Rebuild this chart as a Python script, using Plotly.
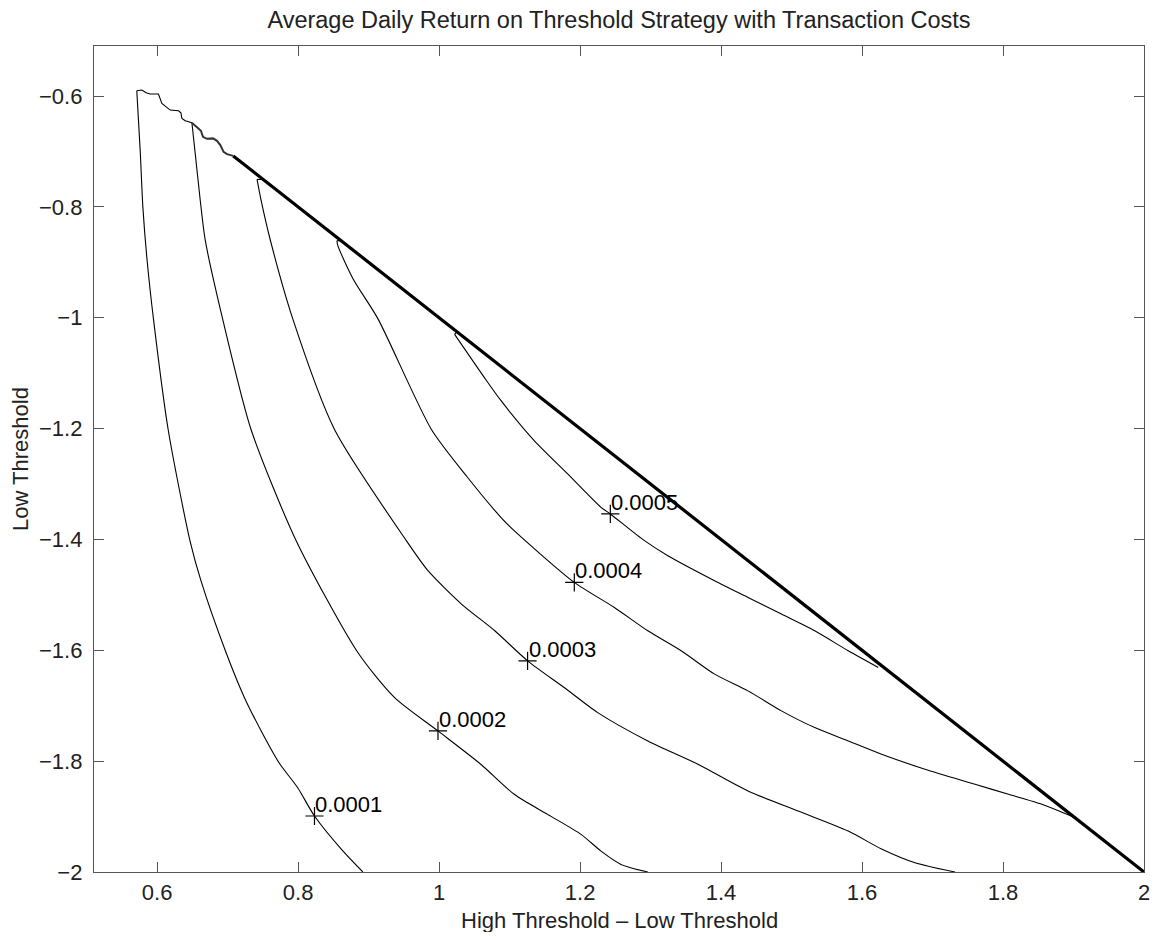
import plotly.graph_objects as go

# ---- data ----
# contour level 0.0001
x_c1 = [0.5711, 0.5760, 0.5797, 0.5860, 0.5947, 0.6156, 0.6465, 0.6620, 0.6977, 0.7237,
        0.7474, 0.7734, 0.7994, 0.8232, 0.8634, 0.8918]
y_c1 = [-0.5904, -0.70, -0.80, -0.90, -1.0016, -1.2016, -1.4020, -1.4740, -1.6040, -1.6850,
        -1.7450, -1.8038, -1.8480, -1.8990, -1.9620, -2.0]
# contour level 0.0002
x_c2 = [0.6493, 0.6611, 0.6682, 0.6928, 0.7332, 0.7972, 0.8847, 0.9369, 0.9984, 1.0591,
        1.1065, 1.1539, 1.2013, 1.2297, 1.2581, 1.2961]
y_c2 = [-0.6482, -0.7879, -0.8600, -1.0016, -1.2016, -1.4022, -1.6040, -1.6853, -1.7455, -1.8056,
        -1.8598, -1.8960, -1.9321, -1.9623, -1.9863, -2.0]
# contour level 0.0003
x_c3 = [0.7417, 0.7474, 0.7606, 0.7923, 0.8516, 0.9535, 0.9842, 1.0317, 1.0790,
        1.1255, 1.1775, 1.2250, 1.2961, 1.3672, 1.4382, 1.5093, 1.5804, 1.6277, 1.6751, 1.7319]
y_c3 = [-0.7505, -0.7879, -0.8602, -1.0016, -1.2016, -1.4022, -1.4564, -1.5166, -1.5648,
        -1.6190, -1.6672, -1.7124, -1.7635, -1.8056, -1.8538, -1.8900, -1.9261, -1.9586, -1.9834, -2.0]
x_hook3 = [0.7503, 0.7417]
y_hook3 = [-0.7505, -0.7505]
# contour level 0.0004
x_c4 = [0.8550, 0.8563, 0.8780, 0.9131, 0.9891, 1.0402, 1.0876, 1.1065, 1.1918, 1.2486,
        1.2961, 1.3434, 1.3908, 1.4382, 1.4856, 1.5329, 1.5804, 1.6277, 1.6893, 1.7603,
        1.8078, 1.8552, 1.8907, 1.9025]
y_c4 = [-0.8610, -0.8700, -0.9300, -1.0016, -1.2016, -1.2878, -1.3600, -1.3841, -1.4775, -1.5227,
        -1.5648, -1.6009, -1.6430, -1.6732, -1.7093, -1.7395, -1.7635, -1.7876, -1.8146, -1.8417,
        -1.8598, -1.8778, -1.8959, -1.9021]
x_hook4 = [0.8610, 0.8550]
y_hook4 = [-0.8610, -0.8610]
# contour level 0.0005
x_c5 = [1.0220, 1.0638, 1.0876, 1.1349, 1.1824, 1.2297, 1.2429, 1.2913, 1.3245,
        1.3908, 1.4382, 1.4856, 1.5329, 1.5804, 1.6230]
y_c5 = [-1.0300, -1.1071, -1.1492, -1.2215, -1.2817, -1.3420, -1.3540, -1.4022, -1.4293,
        -1.4744, -1.5046, -1.5346, -1.5648, -1.6009, -1.6310]
x_hook5 = [1.0250, 1.0220]
y_hook5 = [-1.0250, -1.0300]

# ragged upper boundary of the feasible region
x_edge = [0.5711, 0.5783, 0.5844, 0.5900, 0.6018, 0.6043, 0.6067, 0.6185, 0.6303, 0.6337,
          0.6351, 0.6398, 0.6493]
y_edge = [-0.5904, -0.5892, -0.5940, -0.5964, -0.5964, -0.6072, -0.6132, -0.6253, -0.6266, -0.6302,
          -0.6403, -0.6446, -0.6482]
x_edge2 = [0.6493, 0.6573, 0.6621, 0.6650, 0.6706, 0.6792, 0.6849, 0.6896, 0.6942, 0.6991, 0.7080]
y_edge2 = [-0.6482, -0.6565, -0.6627, -0.6735, -0.6771, -0.6764, -0.6808, -0.6885, -0.7006, -0.7048, -0.7080]
# straight boundary (High Threshold = 0)
x_diag = [0.7080, 2.0]
y_diag = [-0.7080, -2.0]

# contour labels
label_x = [0.8232, 0.9984, 1.1255, 1.1918, 1.2429]
label_y = [-1.8990, -1.7455, -1.6190, -1.4775, -1.3540]
label_text = ["0.0001", "0.0002", "0.0003", "0.0004", "0.0005"]

x_ticks = [0.6, 0.8, 1.0, 1.2, 1.4, 1.6, 1.8, 2.0]
x_ticktext = ["0.6", "0.8", "1", "1.2", "1.4", "1.6", "1.8", "2"]
y_ticks = [-2.0, -1.8, -1.6, -1.4, -1.2, -1.0, -0.8, -0.6]
y_ticktext = ["\u22122", "\u22121.8", "\u22121.6", "\u22121.4", "\u22121.2", "\u22121", "\u22120.8", "\u22120.6"]

FONT = "Liberation Sans, Arial, Helvetica, sans-serif"
fig = go.Figure()

def add_line(xs, ys, width=1.1, color="black", shape="linear"):
    fig.add_trace(go.Scatter(x=xs, y=ys, mode="lines",
                             line=dict(color=color, width=width, shape=shape, smoothing=0.7),
                             showlegend=False, hoverinfo="skip"))

for xs, ys in [(x_c1, y_c1), (x_c2, y_c2), (x_c3, y_c3), (x_c4, y_c4), (x_c5, y_c5)]:
    add_line(xs, ys, shape="spline")
for xs, ys in [(x_hook3, y_hook3), (x_hook4, y_hook4), (x_hook5, y_hook5)]:
    add_line(xs, ys)

add_line(x_edge, y_edge, width=1.1)
add_line(x_edge2, y_edge2, width=2, color="#333333")
add_line(x_diag, y_diag, width=3.2)

fig.add_trace(go.Scatter(x=label_x, y=label_y, mode="markers",
                         marker=dict(symbol="cross-thin", size=13, line=dict(color="black", width=1.2)),
                         showlegend=False, hoverinfo="skip"))

for lx, ly, lt in zip(label_x, label_y, label_text):
    fig.add_annotation(x=lx, y=ly, text=lt, showarrow=False, xanchor="left", yanchor="bottom",
                       xshift=-1, yshift=-3, font=dict(family=FONT, size=22, color="black"))

axis_common = dict(showgrid=False, zeroline=False, showline=True, linecolor="#555555", linewidth=1.3,
                   mirror="ticks", ticks="inside", ticklen=10, tickwidth=1.3, tickcolor="#555555",
                   automargin=False, ticklabeloverflow="allow",
                   tickfont=dict(family=FONT, size=22, color="#222222"))

fig.update_xaxes(range=[0.5104, 2.0], tickvals=x_ticks, ticktext=x_ticktext, **axis_common)
fig.update_yaxes(range=[-2.0, -0.5097], tickvals=y_ticks, ticktext=y_ticktext, ticklabelstandoff=6,
                 **axis_common)

fig.add_annotation(text="High Threshold \u2013 Low Threshold", xref="paper", yref="paper",
                   x=0.5, y=0, yshift=-48, showarrow=False, xanchor="center", yanchor="middle",
                   font=dict(family=FONT, size=22, color="#222222"))
fig.add_annotation(text="Low Threshold", xref="paper", yref="paper", textangle=-90,
                   x=0, y=0.5, xshift=-74, showarrow=False, xanchor="center", yanchor="middle",
                   font=dict(family=FONT, size=22, color="#222222"))

# page body adds an 8px margin, so the figure is sized / offset to land the axes where the reference has them
W, H = 1142, 924
fig.update_layout(
    width=W, height=H,
    margin=dict(l=86, r=6, t=38, b=60),
    paper_bgcolor="white", plot_bgcolor="white",
    title=dict(text="Average Daily Return on Threshold Strategy with Transaction Costs",
               x=0.5, xref="paper", xanchor="center", y=1 - 12 / H, yanchor="middle", yref="container",
               font=dict(family=FONT, size=23.5, color="#222222")),
    showlegend=False,
)

fig.write_html("out.html")
